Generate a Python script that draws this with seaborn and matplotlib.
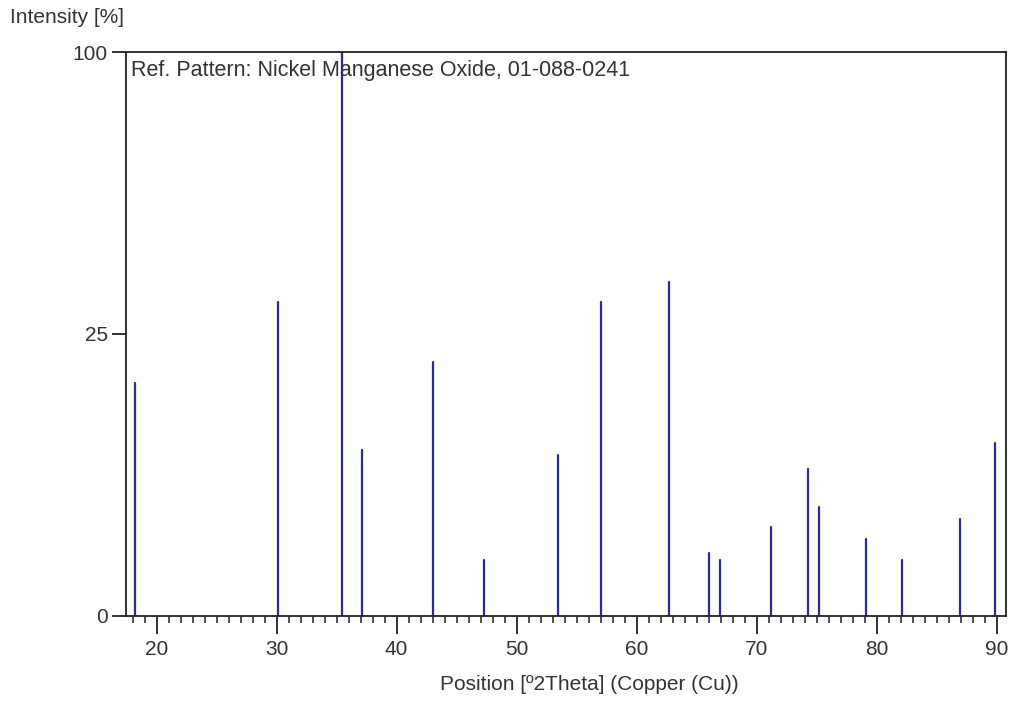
import numpy as np
import pandas as pd
import matplotlib
matplotlib.use("Agg")
import matplotlib.pyplot as plt
import matplotlib.font_manager as fm
from matplotlib.ticker import MultipleLocator, FixedLocator
import seaborn as sns

# Peak data (2theta, relative intensity %)
positions = [18.19, 30.08, 35.47, 37.08, 43.05, 47.30, 53.48, 57.05, 62.72,
             66.00, 66.94, 71.17, 74.25, 75.22, 79.11, 82.08, 86.94, 89.89]
intensities = [17.1, 31.0, 100.0, 8.7, 20.3, 1.0, 8.1, 31.0, 35.0,
               1.26, 0.98, 2.47, 6.8, 3.7, 1.88, 0.97, 2.93, 9.4]
y_ticks = [0, 25, 100]
x_ticks = [20, 30, 40, 50, 60, 70, 80, 90]
title_text = "Ref. Pattern: Nickel Manganese Oxide, 01-088-0241"
x_label = "Position [º2Theta] (Copper (Cu))"
y_label = "Intensity [%]"

sns.set_theme(style="white")
names = {f.name for f in fm.fontManager.ttflist}
fam = [f for f in ["Liberation Sans Narrow", "Liberation Sans", "DejaVu Sans"] if f in names]
plt.rcParams["font.family"] = fam

text_color = "#333333"
line_color = "#2a2aa0"

rows = []
for i, (p, v) in enumerate(zip(positions, intensities)):
    rows.append({"peak": i, "x": p, "y": 0.0})
    rows.append({"peak": i, "x": p, "y": v})
df = pd.DataFrame(rows)

fig = plt.figure(figsize=(10.12, 7.01), dpi=100)
ax = fig.add_axes([0.1242, 0.1213, 0.9941 - 0.1242, 0.9258 - 0.1213])

sns.lineplot(data=df, x="x", y="y", units="peak", estimator=None, sort=False,
             color=line_color, linewidth=1.6, ax=ax, legend=False)

ax.set_yscale("function", functions=(lambda v: np.sqrt(np.clip(v, 0, None)),
                                     lambda v: np.square(v)))
ax.set_ylim(0, 100)
ax.set_xlim(17.42, 90.78)

ax.yaxis.set_major_locator(FixedLocator(y_ticks))
ax.yaxis.set_minor_locator(FixedLocator([]))
ax.set_yticklabels([str(t) for t in y_ticks])
ax.xaxis.set_major_locator(FixedLocator(x_ticks))
ax.xaxis.set_minor_locator(MultipleLocator(1))
ax.set_xticklabels([str(t) for t in x_ticks])

for s in ax.spines.values():
    s.set_color("#222222")
    s.set_linewidth(1.3)

ax.tick_params(axis="x", which="major", direction="out", length=13, width=1.3,
               color="#222222", labelsize=15, labelcolor=text_color, pad=4,
               bottom=True)
ax.tick_params(axis="x", which="minor", direction="out", length=5, width=1.1,
               color="#222222", bottom=True)
ax.tick_params(axis="y", which="major", direction="out", length=10, width=1.3,
               color="#222222", labelsize=15, labelcolor=text_color, pad=3,
               left=True)

ax.set_xlabel(x_label, fontsize=15, color=text_color)
ax.xaxis.set_label_coords(0.527, -0.105)
ax.set_ylabel("")
ax.text(0.006, 0.985, title_text, transform=ax.transAxes, ha="left", va="top",
        fontsize=15.5, color=text_color)
fig.text(10 / 1012, 1 - 8 / 701, y_label, ha="left", va="top",
         fontsize=15, color=text_color)

fig.savefig("out.png", dpi=100)
